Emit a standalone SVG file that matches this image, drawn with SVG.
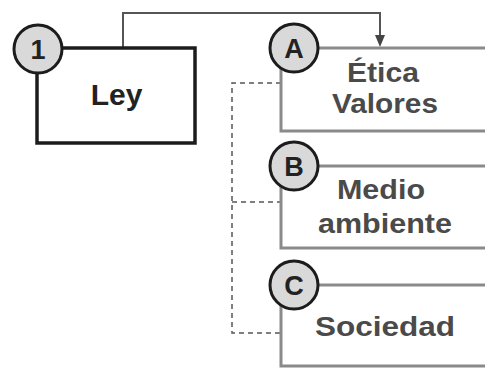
<svg xmlns="http://www.w3.org/2000/svg" width="485" height="368" viewBox="0 0 485 368">
<defs>
<style>
.main{fill:#fff;stroke:#1c1c1c;stroke-width:3.5}
.box{fill:#fff;stroke:#8a8a8a;stroke-width:3}
.badge{fill:#d9d9d9;stroke:#1c1c1c;stroke-width:3}
.blabel{font-family:"Liberation Sans",Arial,sans-serif;font-weight:bold;font-size:27px;fill:#222;text-anchor:middle}
.txt{font-family:"Liberation Sans",Arial,sans-serif;font-weight:bold;font-size:28px;fill:#4a4a4a;text-anchor:middle}
.ley{font-family:"Liberation Sans",Arial,sans-serif;font-weight:bold;font-size:30px;fill:#222;text-anchor:middle}
.solid{fill:none;stroke:#555;stroke-width:2}
.dash{fill:none;stroke:#555;stroke-width:1.5;stroke-dasharray:5 4}
.head{fill:#444}
</style>
</defs>
<rect width="485" height="368" fill="#fff"/>
<g id="connectors">
<path class="solid" d="M123,48 V13 H380 V36"/>
<path class="head" d="M375,35 L385,35 L380,47 Z"/>
<path class="dash" d="M281,83 H232 V333 H281"/>
<path class="dash" d="M232,202 H281"/>
</g>
<g id="node-ley">
<rect class="main" x="37" y="48" width="158" height="95"/>
<text class="ley" x="116.5" y="105">Ley</text>
<circle class="badge" cx="38" cy="49" r="24"/>
<text class="blabel" x="38" y="59">1</text>
</g>
<g id="node-a">
<rect class="box" x="281" y="48" width="220" height="83"/>
<text class="txt" x="383" y="82" textLength="72" lengthAdjust="spacingAndGlyphs">Ética</text>
<text class="txt" x="385" y="113" textLength="106" lengthAdjust="spacingAndGlyphs">Valores</text>
<circle class="badge" cx="294" cy="48" r="24"/>
<text class="blabel" x="294" y="58">A</text>
</g>
<g id="node-b">
<rect class="box" x="281" y="166" width="220" height="82"/>
<text class="txt" x="381" y="199" textLength="88" lengthAdjust="spacingAndGlyphs">Medio</text>
<text class="txt" x="385" y="233" textLength="134" lengthAdjust="spacingAndGlyphs">ambiente</text>
<circle class="badge" cx="294" cy="166" r="24"/>
<text class="blabel" x="294" y="176">B</text>
</g>
<g id="node-c">
<rect class="box" x="281" y="285" width="220" height="81"/>
<text class="txt" x="385" y="336" textLength="140" lengthAdjust="spacingAndGlyphs">Sociedad</text>
<circle class="badge" cx="294" cy="285" r="24"/>
<text class="blabel" x="294" y="295">C</text>
</g>
</svg>
